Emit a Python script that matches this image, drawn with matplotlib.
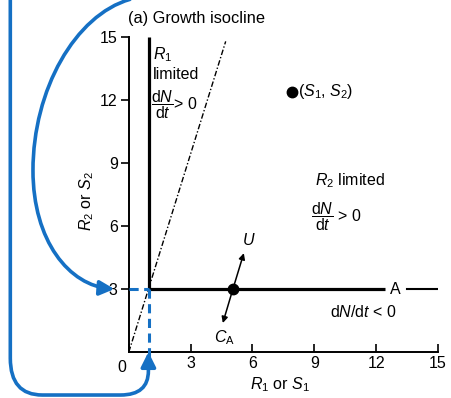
import matplotlib.pyplot as plt
import numpy as np
from matplotlib.patches import FancyArrowPatch
from matplotlib.path import Path

plt.rcParams['font.family'] = 'Liberation Sans'
plt.rcParams['mathtext.fontset'] = 'custom'
plt.rcParams['mathtext.rm'] = 'Liberation Sans'
plt.rcParams['mathtext.it'] = 'Liberation Sans:italic'
plt.rcParams['font.size'] = 11.5

# data
ticks = [0, 3, 6, 9, 12, 15]
r1_star, r2_star = 1.0, 3.0
supply_pt = (7.9, 12.4)
eq_pt = (5.05, 3.0)
u_tip = (5.58, 4.71)
ca_tip = (4.56, 1.38)
ray_x = [0, 4.7]
ray_y = [0, 14.8]
hline_end = 12.45
hline_tail = [13.5, 15]

blue = '#1570c4'

fig = plt.figure(figsize=(4.52, 3.98), dpi=100)
ax = fig.add_axes([0.285, 0.1156, 0.684, 0.791])
ax.set_xlim(0, 15)
ax.set_ylim(0, 15)

for s in ['top', 'right']:
    ax.spines[s].set_visible(False)
for s in ['left', 'bottom']:
    ax.spines[s].set_linewidth(1.4)

ax.set_xticks(ticks)
ax.set_xticklabels([''] + [str(t) for t in ticks[1:]])
ax.set_yticks(ticks[1:])
ax.set_yticklabels([str(t) for t in ticks[1:]])
ax.tick_params(axis='x', direction='in', length=6, width=1.2, pad=3)
ax.tick_params(axis='y', direction='out', length=6, width=1.2, pad=2)
ax.text(-0.35, -0.4, '0', ha='center', va='top')

ax.set_xlabel(r'$R_1$ or $S_1$')
ax.set_ylabel(r'$R_2$ or $S_2$')
ax.xaxis.set_label_coords(0.49, -0.075)
ax.yaxis.set_label_coords(-0.105, 0.48)

# isoclines
ax.plot([r1_star, r1_star], [r2_star, 15], color='black', lw=2.3, solid_capstyle='butt')
ax.plot([r1_star, hline_end], [r2_star, r2_star], color='black', lw=2.3, solid_capstyle='butt')
ax.plot(hline_tail, [r2_star, r2_star], color='black', lw=1.5)
ax.text(12.95, r2_star, 'A', ha='center', va='center')

# consumption ray
ax.plot(ray_x, ray_y, color='black', lw=1.0, linestyle=(0, (4, 1.5, 1, 1.5)))

# points
ax.plot(*supply_pt, 'o', color='black', ms=7.5)
ax.plot(*eq_pt, 'o', color='black', ms=7.5, zorder=5)
ax.annotate('', xy=u_tip, xytext=eq_pt,
            arrowprops=dict(arrowstyle='-|>', color='black', lw=1.1, mutation_scale=9, shrinkA=0, shrinkB=0))
ax.annotate('', xy=ca_tip, xytext=eq_pt,
            arrowprops=dict(arrowstyle='-|>', color='black', lw=1.1, mutation_scale=9, shrinkA=0, shrinkB=0))

# text labels
ax.text(-0.05, 15.9, '(a) Growth isocline', ha='left', va='center', clip_on=False, fontsize=11.8)
ax.text(1.17, 14.15, r'$R_1$', ha='left', va='center')
ax.text(1.15, 13.2, 'limited', ha='left', va='center')
ax.text(1.1, 11.8, r'$\dfrac{\mathrm{d}N}{\mathrm{d}t}$> $0$', ha='left', va='center')
ax.text(8.2, 12.4, r'$(S_1$, $S_2)$', ha='left', va='center')
ax.text(9.05, 8.15, r'$R_2$ limited', ha='left', va='center')
ax.text(8.85, 6.45, r'$\dfrac{\mathrm{d}N}{\mathrm{d}t}$ > 0', ha='left', va='center')
ax.text(9.75, 1.9, r'd$N$/d$t$ < 0', ha='left', va='center')
ax.text(5.8, 5.35, r'$U$', ha='center', va='center')
ax.text(4.65, 0.7, r'$C_\mathrm{A}$', ha='center', va='center')

# blue guide lines
ax.plot([0, r1_star], [r2_star, r2_star], color=blue, lw=2.2, linestyle=(0, (3, 1.8)), clip_on=False, zorder=6)
ax.plot([r1_star, r1_star], [r2_star, -0.5], color=blue, lw=2.2, linestyle=(0, (3, 1.8)), clip_on=False, zorder=6)

# blue loop from the left edge to the x-axis at R1*
loop_x = [-5.75, -5.75, -5.75, -4.2, -0.4, 0.95, 0.95, 0.95]
loop_y = [16.8, -0.3, -2.05, -2.05, -2.05, -2.05, -0.9, 0.0]
loop_codes = [Path.MOVETO, Path.LINETO, Path.CURVE3, Path.CURVE3, Path.LINETO,
              Path.CURVE3, Path.CURVE3, Path.LINETO]
loop = FancyArrowPatch(path=Path(np.column_stack([loop_x, loop_y]), loop_codes),
                       arrowstyle='-|>', mutation_scale=22, color=blue, lw=2.6,
                       clip_on=False, zorder=7)
ax.add_patch(loop)

# blue arc ending at the y-axis at R2*
arc_x = [0.05, -2.6, -4.65, -4.65, -4.65, -4.65, -2.9, -0.7]
arc_y = [16.8, 16.05, 12.5, 8.65, 8.65, 5.3, 3.15, 3.0]
arc_codes = [Path.MOVETO, Path.CURVE4, Path.CURVE4, Path.CURVE4, Path.LINETO,
             Path.CURVE4, Path.CURVE4, Path.CURVE4]
arc = FancyArrowPatch(path=Path(np.column_stack([arc_x, arc_y]), arc_codes),
                      arrowstyle='-|>', mutation_scale=22, color=blue, lw=2.6,
                      clip_on=False, zorder=7)
ax.add_patch(arc)

plt.savefig('out.png', dpi=100)
